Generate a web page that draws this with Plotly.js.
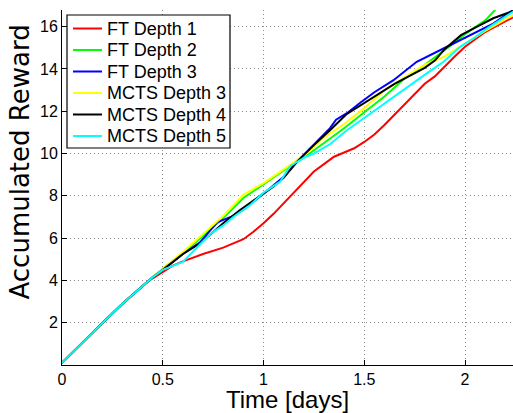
<!DOCTYPE html>
<html>
<head>
<meta charset="utf-8">
<script src="https://cdn.plot.ly/plotly-3.0.1.min.js"></script>
<style>html,body{margin:0;padding:0;background:#fff;}#chart{width:513px;height:413px;}</style>
</head>
<body>
<div id="chart"></div>
<script>
// Series names
const seriesNames = ["FT Depth 1","FT Depth 2","FT Depth 3","MCTS Depth 3","MCTS Depth 4","MCTS Depth 5"];
const seriesColors = ["#ff0000","#00ff00","#0000ff","#ffff00","#000000","#00ffff"];

// FT Depth 1 (red)
const ft1_t = [0,0.1,0.2,0.3,0.4,0.45,0.5,0.55,0.6,0.7,0.8,0.88,0.9,0.95,1.0,1.05,1.1,1.15,1.2,1.25,1.3,1.35,1.4,1.45,1.5,1.55,1.6,1.65,1.7,1.75,1.8,1.85,1.9,1.95,2.0,2.05,2.1,2.15,2.2,2.24];
const ft1_r = [0.1,1.05,1.98,2.9,3.75,4.1,4.42,4.7,4.9,5.25,5.55,5.85,5.95,6.3,6.7,7.15,7.65,8.15,8.65,9.15,9.5,9.85,10.05,10.25,10.55,10.9,11.35,11.85,12.35,12.85,13.3,13.65,14.15,14.6,15.05,15.4,15.75,16.0,16.25,16.45];

// FT Depth 2 (green)
const ft2_t = [0,0.1,0.2,0.3,0.4,0.45,0.5,0.6,0.7,0.8,0.9,1.0,1.1,1.2,1.3,1.4,1.5,1.6,1.7,1.8,1.9,2.0,2.1,2.15];
const ft2_r = [0.1,1.05,1.98,2.9,3.75,4.15,4.55,5.3,6.1,6.95,7.9,8.55,9.2,9.8,10.5,11.2,11.95,12.7,13.55,14.2,14.9,15.65,16.3,16.8];

// FT Depth 3 (blue)
const ft3_t = [0,0.1,0.2,0.3,0.4,0.45,0.5,0.6,0.685,0.77,0.85,0.9,1.0,1.1,1.165,1.25,1.33,1.36,1.42,1.48,1.55,1.645,1.76,1.893,1.976,2.06,2.14,2.24];
const ft3_r = [0.1,1.05,1.98,2.9,3.75,4.15,4.5,5.25,5.8,6.75,7.05,7.35,8.1,8.9,9.6,10.45,11.2,11.6,11.95,12.4,12.9,13.47,14.34,14.97,15.37,15.8,16.15,16.8];

// MCTS Depth 3 (yellow)
const mc3_t = [0,0.1,0.2,0.3,0.4,0.45,0.5,0.6,0.7,0.8,0.9,1.0,1.1,1.2,1.3,1.4,1.5,1.6,1.7,1.8,1.9,2.0,2.1,2.2,2.24];
const mc3_r = [0.1,1.05,1.98,2.9,3.75,4.15,4.55,5.35,6.2,7.05,8.05,8.6,9.25,9.9,10.75,11.4,12.15,13.0,13.6,14.2,14.6,15.2,15.8,16.35,16.55];

// MCTS Depth 4 (black)
const mc4_t = [0,0.1,0.2,0.3,0.4,0.45,0.5,0.6,0.685,0.8,0.88,1.0,1.05,1.1,1.165,1.25,1.33,1.41,1.5,1.65,1.8,1.85,1.9,1.98,2.06,2.14,2.24];
const mc4_r = [0.1,1.05,1.98,2.9,3.75,4.15,4.5,5.25,5.75,6.7,7.3,8.1,8.45,8.85,9.6,10.4,11.1,11.85,12.4,13.3,14.05,14.4,14.95,15.6,16.0,16.4,16.75];

// MCTS Depth 5 (cyan)
const mc5_t = [0,0.1,0.2,0.3,0.4,0.45,0.5,0.55,0.6,0.7,0.751,0.8,0.85,0.933,1.0,1.082,1.132,1.165,1.21,1.25,1.331,1.414,1.496,1.55,1.645,1.72,1.81,1.893,1.976,2.05,2.108,2.24];
const mc5_r = [0.1,1.05,1.98,2.9,3.75,4.15,4.5,4.7,4.88,5.85,6.3,6.6,7.0,7.56,8.15,8.67,9.4,9.6,9.85,10.0,10.45,11.1,11.66,12.0,12.69,13.2,13.79,14.34,15.05,15.5,15.91,16.72];

// Axis ticks
const xTickVals = [0,0.5,1,1.5,2];
const xTickText = ["0","0.5","1","1.5","2"];
const yTickVals = [2,4,6,8,10,12,14,16];
const yTickText = ["2","4","6","8","10","12","14","16"];

const xs = [ft1_t, ft2_t, ft3_t, mc3_t, mc4_t, mc5_t];
const ys = [ft1_r, ft2_r, ft3_r, mc3_r, mc4_r, mc5_r];

const traces = seriesNames.map((name, i) => ({
  type: "scatter",
  mode: "lines",
  name: name,
  x: xs[i],
  y: ys[i],
  showlegend: false,
  line: {color: seriesColors[i], width: 2}
}));

const font = "Liberation Sans, Arial, Helvetica, sans-serif";

// Plot area geometry (pixels) used to place the boxed legend like MATLAB's
const W = 513, H = 413, ML = 62, MR = 0, MT = 10, MB = 48;
const PW = W - ML - MR, PH = H - MT - MB;
const px = v => (v - ML) / PW;
const py = v => (H - MB - v) / PH;

const shapes = [{
  type: "rect", xref: "paper", yref: "paper",
  x0: px(67), x1: px(230), y0: py(148), y1: py(15),
  fillcolor: "#ffffff", line: {color: "#000", width: 1.2}, layer: "above"
}];
const annotations = [];
seriesNames.forEach((name, i) => {
  const rowY = 28.5 + i * 21.5;
  shapes.push({
    type: "line", xref: "paper", yref: "paper",
    x0: px(73), x1: px(102), y0: py(rowY), y1: py(rowY),
    line: {color: seriesColors[i], width: 2}, layer: "above"
  });
  annotations.push({
    text: name, xref: "paper", yref: "paper",
    x: px(105), y: py(rowY), xanchor: "left", yanchor: "middle",
    showarrow: false, font: {family: font, size: 18, color: "#000"}
  });
});

annotations.push({
  text: "Accumulated Reward",
  xref: "paper",
  yref: "paper",
  x: px(19.5),
  y: py(162),
  xanchor: "center",
  yanchor: "middle",
  textangle: -90,
  showarrow: false,
  font: {family: "DejaVu Sans, sans-serif", size: 26, color: "#000"}
});

const layout = {
  width: W,
  height: H,
  margin: {l: ML, r: MR, t: MT, b: MB, pad: 0},
  paper_bgcolor: "#ffffff",
  plot_bgcolor: "#ffffff",
  showlegend: false,
  font: {family: font, size: 16, color: "#000"},
  xaxis: {
    range: [0, 2.238],
    tickvals: xTickVals,
    ticktext: xTickText,
    ticks: "inside",
    ticklen: 5,
    tickcolor: "#000",
    showline: true,
    linecolor: "#000",
    linewidth: 1,
    showgrid: true,
    gridcolor: "#8c8c8c",
    gridwidth: 1,
    griddash: "1px,3px",
    zeroline: false,
    tickfont: {family: font, size: 16, color: "#000"},
    title: {text: "Time [days]", font: {family: font, size: 24, color: "#000"}, standoff: 6}
  },
  yaxis: {
    range: [0, 16.79],
    tickvals: yTickVals,
    ticktext: yTickText,
    ticks: "inside",
    ticklen: 5,
    tickcolor: "#000",
    showline: true,
    linecolor: "#000",
    linewidth: 1,
    showgrid: true,
    gridcolor: "#8c8c8c",
    gridwidth: 1,
    griddash: "1px,3px",
    zeroline: false,
    tickfont: {family: font, size: 16, color: "#000"}
  },
  shapes: shapes,
  annotations: annotations
};

Plotly.newPlot("chart", traces, layout, {displayModeBar: false, staticPlot: true});
</script>
</body>
</html>
